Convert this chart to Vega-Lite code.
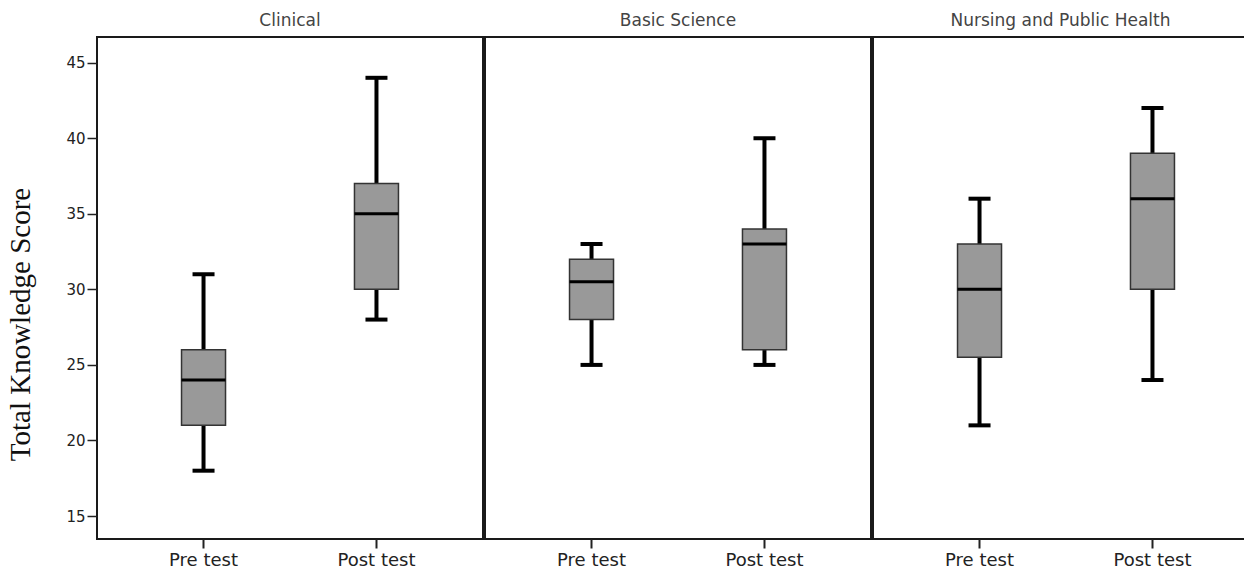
{
  "$schema": "https://vega.github.io/schema/vega-lite/v6.json",
  "padding": {"left": 5, "top": 11, "right": 0, "bottom": 0},
  "background": "white",
  "data": {"values": [
    {"faculty": "Clinical", "test": "Pre test", "min": 18, "q1": 21, "median": 24, "q3": 26, "max": 31},
    {"faculty": "Clinical", "test": "Post test", "min": 28, "q1": 30, "median": 35, "q3": 37, "max": 44},
    {"faculty": "Basic Science", "test": "Pre test", "min": 25, "q1": 28, "median": 30.5, "q3": 32, "max": 33},
    {"faculty": "Basic Science", "test": "Post test", "min": 25, "q1": 26, "median": 33, "q3": 34, "max": 40},
    {"faculty": "Nursing and Public Health", "test": "Pre test", "min": 21, "q1": 25.5, "median": 30, "q3": 33, "max": 36},
    {"faculty": "Nursing and Public Health", "test": "Post test", "min": 24, "q1": 30, "median": 36, "q3": 39, "max": 42}
  ]},
  "config": {
    "view": {"stroke": "#1a1a1a", "strokeWidth": 2},
    "tick": {"opacity": 1},
    "title": {"font": "DejaVu Sans", "fontSize": 17, "fontWeight": "normal", "color": "#444444", "offset": 7, "anchor": "middle"},
    "axisX": {"title": null, "labelAngle": 0, "domain": false, "grid": false, "tickSize": 9, "tickWidth": 2, "tickColor": "#222222", "labelPadding": 3, "labelFont": "DejaVu Sans", "labelFontSize": 18, "labelColor": "#222222"},
    "axisY": {"domain": false, "grid": false, "tickSize": 10, "tickWidth": 1.5, "tickColor": "#222222", "labelPadding": 2, "labelFont": "DejaVu Sans", "labelFontSize": 15, "labelColor": "#222222", "titleFont": "Liberation Serif", "titleFontSize": 29, "titleFontWeight": "normal", "titleColor": "#111111", "titlePadding": 30, "titleY": 287}
  },
  "spacing": 0,
  "hconcat": [
    {
      "width": 386, "height": 502,
      "title": "Clinical",
      "transform": [{"filter": "datum.faculty === 'Clinical'"}],
      "encoding": {"x": {"field": "test", "type": "nominal", "sort": ["Pre test", "Post test"], "scale": {"paddingInner": 0, "paddingOuter": 0.116}}},
      "layer": [
        {"mark": {"type": "rule", "strokeWidth": 4, "color": "black"}, "encoding": {"y": {"field": "min", "type": "quantitative", "title": "Total Knowledge Score", "axis": {"values": [15, 20, 25, 30, 35, 40, 45]}, "scale": {"domain": [13.48, 46.7], "nice": false, "zero": false}}, "y2": {"field": "max"}}},
        {"mark": {"type": "bar", "width": 44, "fill": "#999999", "stroke": "#333333", "strokeWidth": 1.5}, "encoding": {"y": {"field": "q1", "type": "quantitative", "title": "Total Knowledge Score", "axis": {"values": [15, 20, 25, 30, 35, 40, 45]}}, "y2": {"field": "q3"}}},
        {"mark": {"type": "tick", "size": 44, "thickness": 3, "color": "black", "opacity": 1}, "encoding": {"y": {"field": "median", "type": "quantitative", "title": "Total Knowledge Score", "axis": {"values": [15, 20, 25, 30, 35, 40, 45]}}}},
        {"mark": {"type": "tick", "size": 22, "thickness": 4, "color": "black", "opacity": 1}, "encoding": {"y": {"field": "min", "type": "quantitative", "title": "Total Knowledge Score", "axis": {"values": [15, 20, 25, 30, 35, 40, 45]}}}},
        {"mark": {"type": "tick", "size": 22, "thickness": 4, "color": "black", "opacity": 1}, "encoding": {"y": {"field": "max", "type": "quantitative", "title": "Total Knowledge Score", "axis": {"values": [15, 20, 25, 30, 35, 40, 45]}}}}
      ]
    },
    {
      "width": 386, "height": 502,
      "title": "Basic Science",
      "transform": [{"filter": "datum.faculty === 'Basic Science'"}],
      "encoding": {"x": {"field": "test", "type": "nominal", "sort": ["Pre test", "Post test"], "scale": {"paddingInner": 0, "paddingOuter": 0.116}}},
      "layer": [
        {"mark": {"type": "rule", "strokeWidth": 4, "color": "black"}, "encoding": {"y": {"field": "min", "type": "quantitative", "axis": null, "scale": {"domain": [13.48, 46.7], "nice": false, "zero": false}}, "y2": {"field": "max"}}},
        {"mark": {"type": "bar", "width": 44, "fill": "#999999", "stroke": "#333333", "strokeWidth": 1.5}, "encoding": {"y": {"field": "q1", "type": "quantitative", "axis": null}, "y2": {"field": "q3"}}},
        {"mark": {"type": "tick", "size": 44, "thickness": 3, "color": "black", "opacity": 1}, "encoding": {"y": {"field": "median", "type": "quantitative", "axis": null}}},
        {"mark": {"type": "tick", "size": 22, "thickness": 4, "color": "black", "opacity": 1}, "encoding": {"y": {"field": "min", "type": "quantitative", "axis": null}}},
        {"mark": {"type": "tick", "size": 22, "thickness": 4, "color": "black", "opacity": 1}, "encoding": {"y": {"field": "max", "type": "quantitative", "axis": null}}}
      ]
    },
    {
      "width": 375, "height": 502,
      "title": "Nursing and Public Health",
      "transform": [{"filter": "datum.faculty === 'Nursing and Public Health'"}],
      "encoding": {"x": {"field": "test", "type": "nominal", "sort": ["Pre test", "Post test"], "scale": {"paddingInner": 0, "paddingOuter": 0.116, "range": [0, 386]}}},
      "layer": [
        {"mark": {"type": "rule", "strokeWidth": 4, "color": "black"}, "encoding": {"y": {"field": "min", "type": "quantitative", "axis": null, "scale": {"domain": [13.48, 46.7], "nice": false, "zero": false}}, "y2": {"field": "max"}}},
        {"mark": {"type": "bar", "width": 44, "fill": "#999999", "stroke": "#333333", "strokeWidth": 1.5}, "encoding": {"y": {"field": "q1", "type": "quantitative", "axis": null}, "y2": {"field": "q3"}}},
        {"mark": {"type": "tick", "size": 44, "thickness": 3, "color": "black", "opacity": 1}, "encoding": {"y": {"field": "median", "type": "quantitative", "axis": null}}},
        {"mark": {"type": "tick", "size": 22, "thickness": 4, "color": "black", "opacity": 1}, "encoding": {"y": {"field": "min", "type": "quantitative", "axis": null}}},
        {"mark": {"type": "tick", "size": 22, "thickness": 4, "color": "black", "opacity": 1}, "encoding": {"y": {"field": "max", "type": "quantitative", "axis": null}}}
      ]
    }
  ]
}
